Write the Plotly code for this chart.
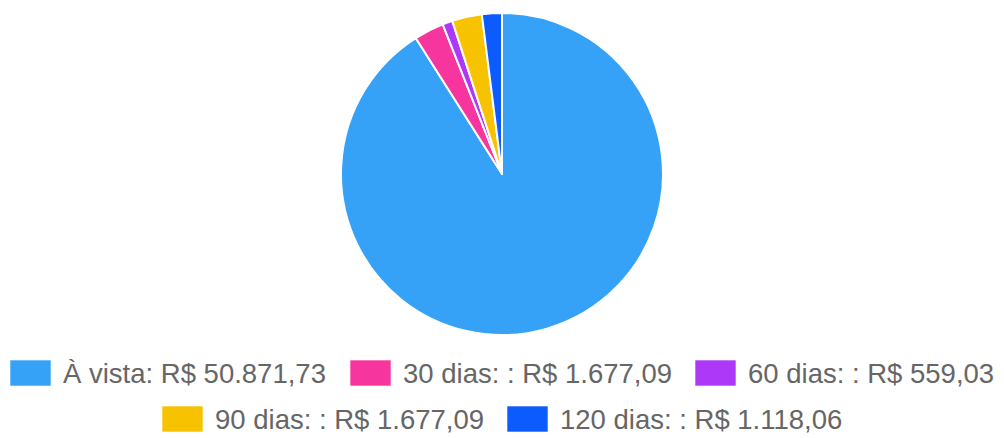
import plotly.graph_objects as go

#---
# data
#---
labels = ["À vista", "30 dias: ", "60 dias: ", "90 dias: ", "120 dias: "]
values = [50871.73, 1677.09, 559.03, 1677.09, 1118.06]
colors = ["#36A2F7", "#F7359F", "#AE38F7", "#F7C200", "#0B5BFF"]

# the page body adds an 8px margin, so the figure is drawn slightly smaller
OFF = 8
W, H = 1004 - OFF, 438 - OFF


def brl(v):
    s = f"{v:,.2f}"
    return "R$ " + s.replace(",", "X").replace(".", ",").replace("X", ".")


legend_texts = [f"{lab}: {brl(v)}" for lab, v in zip(labels, values)]

#---
# legend placement (window pixels): box left, row
#---
legend_pos = [(10, 0), (350, 0), (695, 0), (162, 1), (507, 1)]
row_y = [373, 419]
BOX_W, BOX_H = 41, 26


def px_x(x):
    return (x - OFF) / W


def px_y(y):
    return 1 - (y - OFF) / H


fig = go.Figure()
fig.add_trace(go.Pie(
    labels=labels,
    values=values,
    sort=False,
    direction="clockwise",
    rotation=0,
    textinfo="none",
    marker=dict(colors=colors, line=dict(color="white", width=2)),
    domain=dict(x=[px_x(341), px_x(663)], y=[px_y(335), px_y(13)]),
    showlegend=False,
))

shapes = []
annotations = []
for (bx, row), txt, col in zip(legend_pos, legend_texts, colors):
    cy = row_y[row]
    shapes.append(dict(
        type="rect", xref="paper", yref="paper",
        x0=px_x(bx), x1=px_x(bx + BOX_W),
        y0=px_y(cy + BOX_H / 2), y1=px_y(cy - BOX_H / 2),
        fillcolor=col, line=dict(color="rgba(255,255,255,0.6)", width=1),
    ))
    annotations.append(dict(
        text=txt, xref="paper", yref="paper",
        x=px_x(bx + BOX_W + 10), y=px_y(cy),
        xanchor="left", yanchor="middle", showarrow=False,
        font=dict(family="Liberation Sans, Arial", size=27.5, color="#666666"),
    ))

fig.update_layout(
    width=W,
    height=H,
    margin=dict(l=0, r=0, t=0, b=0),
    paper_bgcolor="white",
    plot_bgcolor="white",
    shapes=shapes,
    annotations=annotations,
)

fig.write_html("out.html")
